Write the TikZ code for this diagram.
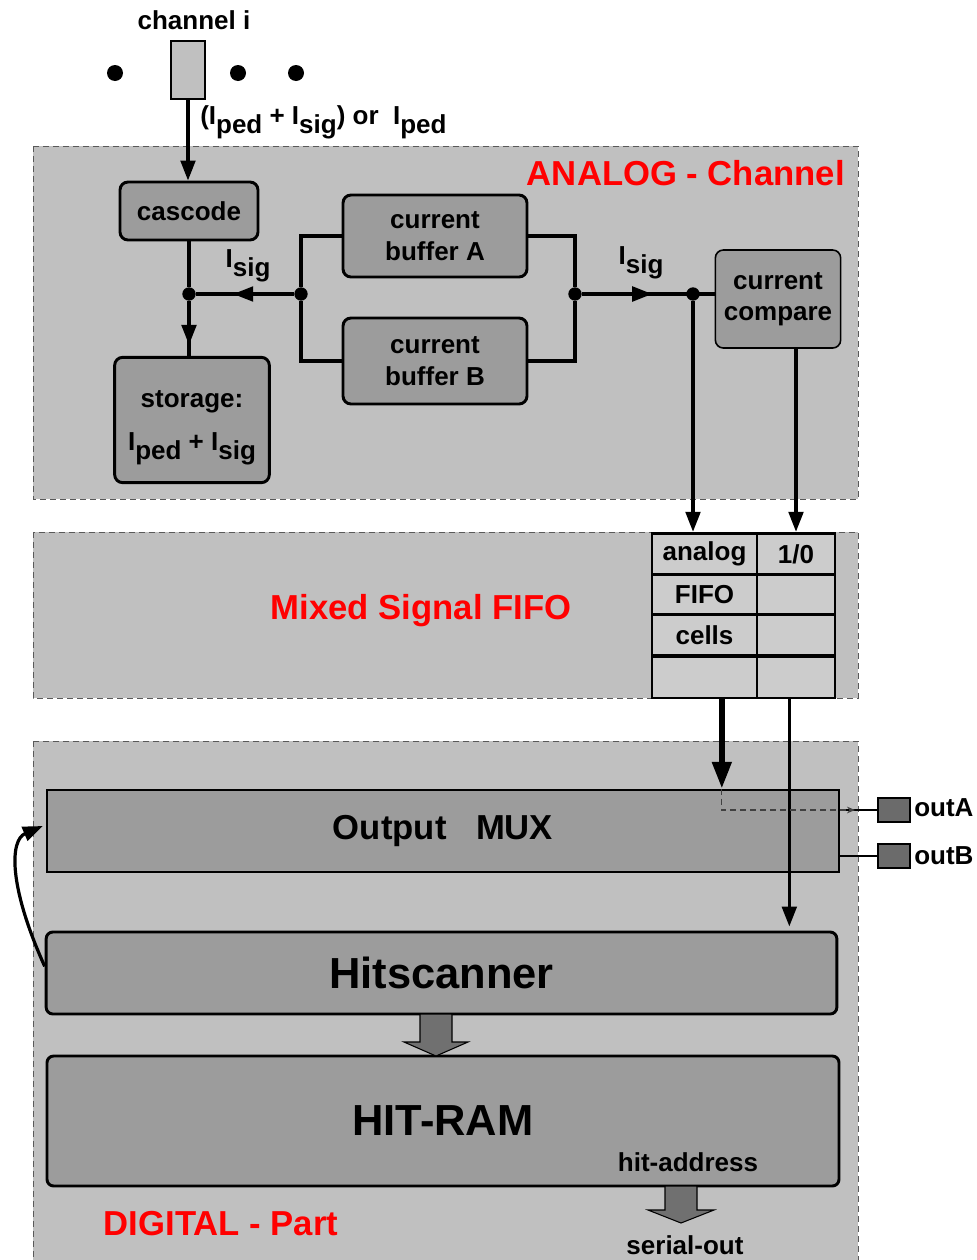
\documentclass[tikz,border=0pt]{standalone}
\usepackage{fontspec}
\setmainfont{Liberation Sans}
\usetikzlibrary{arrows.meta,decorations.markings}

\definecolor{regiongray}{gray}{0.753}
\definecolor{boxgray}{gray}{0.61}
\definecolor{cellgray}{gray}{0.8}
\definecolor{padgray}{gray}{0.42}
\definecolor{fatgray}{gray}{0.44}

\newcommand\smallbf{\bfseries\fontsize{19.5}{23.5}\selectfont}
\newcommand\midbf{\bfseries\fontsize{26}{30}\selectfont}
\newcommand\bigbf{\bfseries\fontsize{32.6}{38}\selectfont}
\newcommand\dn[1]{\raisebox{-0.35em}{#1}}

\tikzset{
  >={Triangle[length=15pt,width=11pt]},
  region/.style={fill=regiongray, draw=black!65, dash pattern=on 4.5pt off 3pt, line width=0.6pt},
  block/.style={draw, fill=boxgray, rounded corners=6pt, line width=2.2pt,
    inner sep=0pt, align=center, font=\smallbf},
  bigbox/.style={draw, fill=boxgray, line width=2.2pt, inner sep=0pt, align=center},
  cell/.style={draw, fill=cellgray, line width=2.2pt, inner sep=0pt,
    minimum height=31.1pt, font=\smallbf},
  dot/.style={circle, fill=black, inner sep=0pt, minimum size=10pt},
  pad/.style={draw, fill=padgray, line width=1pt, minimum width=24pt, minimum height=18pt, inner sep=0pt},
  txt/.style={font=\smallbf, inner sep=0pt},
  title/.style={font=\midbf, text=red, inner sep=0pt},
  wire/.style={draw, line width=2.4pt},
  midarrow/.style={decoration={markings, mark=at position #1 with {\arrow{>}}},
    postaction=decorate},
  fatarrow/.style={draw, fill=fatgray, line width=0.8pt},
}

\begin{document}
\begin{tikzpicture}[x=0.75pt,y=-0.75pt]
  \useasboundingbox (0,0) rectangle (977,1260);

  % three parts of the chip
  \path[region] (33,146) rectangle (858,499);
  \path[region] (33,532) rectangle (858,698);
  \path[region] (33,741) rectangle (858,1264);
  \node[title, anchor=east] (tanalog) at (845,173) {ANALOG - Channel};
  \node[title] (tfifo) at (421,611) {Mixed Signal FIFO};
  \node[title] (tdigital) at (221,1224) {DIGITAL - Part};

  % input channel
  \node[txt] (chtext) at (194,20) {channel i};
  \node[draw, fill=regiongray, line width=2pt, minimum width=25.5pt,
    minimum height=43.5pt, inner sep=0pt] (chan) at (188,70) {};
  \node[dot, minimum size=12pt] (d1) at (115,73) {};
  \node[dot, minimum size=12pt] (d2) at (238,73) {};
  \node[dot, minimum size=12pt] (d3) at (296,73) {};
  \node[txt, anchor=west] (inlbl) at (200,122) {(I\dn{ped} + I\dn{sig}) or\ \ I\dn{ped}};

  % analog blocks
  \node[block, minimum width=103.5pt, minimum height=43.5pt] (cascode) at (189,211) {cascode};
  \node[block, minimum width=116pt, minimum height=94pt] (storage) at (192,420)
    {\rule{0pt}{24pt}storage:\\[9pt]I\dn{ped} + I\dn{sig}};
  \node[block, minimum width=138pt, minimum height=61.5pt] (bufA) at (435,236) {current\\buffer A};
  \node[block, minimum width=138pt, minimum height=64.5pt] (bufB) at (435,361) {current\\buffer B};
  \node[block, line width=1.2pt, minimum width=94pt, minimum height=73.5pt] (compare) at (778,299)
    {current\\compare};

  \node[dot] (j2) at (301,294) {};
  \node[dot] (j1) at (cascode.south |- j2) {};
  \node[dot] (j3) at (575,294) {};
  \node[dot] (j4) at (693,294) {};
  \node[txt] (isig1) at (248,266) {I\dn{sig}};
  \node[txt] (isig2) at (641,263) {I\dn{sig}};

  % fifo cells
  \foreach \r/\y/\ta/\tb in {1/554/analog/{1/0}, 2/595/FIFO/, 3/635/cells/, 4/677.25//} {
    \node[cell, minimum width=78.75pt] (t\r1) at (704.5,\y) {\ta};
    \node[cell, minimum width=58.5pt] (t\r2) at (796,\y) {\tb};
  }

  % digital blocks
  \node[bigbox, minimum width=594pt, minimum height=61.5pt, font=\midbf] (mux) at (443,831)
    {Output\hspace{0.85em}MUX};
  \node[bigbox, rounded corners=5pt, minimum width=593pt, minimum height=61.5pt, font=\bigbf] (hit)
    at (441.5,973) {Hitscanner};
  \node[bigbox, rounded corners=5pt, minimum width=594pt, minimum height=97.5pt, font=\bigbf] (ram)
    at (443,1121) {HIT-RAM};
  \node[txt] (hitaddr) at (688,1162) {hit-address};
  \node[txt] (serout) at (685,1245) {serial-out};
  \node[pad] (outA) at (894,810) {};
  \node[pad] (outB) at (894,856) {};
  \node[txt, anchor=west] (outAl) at (914,808) {outA};
  \node[txt, anchor=west] (outBl) at (914,856) {outB};

  \draw[fatarrow] (420,1014) -- (420,1042) -- (404,1042) -- (436,1056)
    -- (468,1042) -- (452,1042) -- (452,1014) -- cycle;
  \draw[fatarrow] (665,1186) -- (665,1210) -- (648,1210) -- (681,1223)
    -- (714,1210) -- (697,1210) -- (697,1186) -- cycle;

  \path[wire, ->] (chan.south) -- (chan.south |- cascode.north);
  \path[wire] (cascode.south) -- (j1);
  \path[wire, midarrow=0.8] (j1) -- (j1 |- storage.north);
  \path[wire, midarrow=0.62] (j2) -- (j1);
  \path[wire] (bufA.west) -| (j2) |- (bufB.west);
  \path[wire] (bufA.east) -| (j3) |- (bufB.east);
  \path[wire, midarrow=0.53] (j3) -- (compare.west |- j3);
  \path[wire, ->] (j4) -- (j4 |- t11.north);
  \path[wire, ->] (compare.south -| t12) -- (t12.north);
  \path[wire, line width=4.2pt, -{Triangle[length=20pt,width=14pt]}]
    ([xshift=13pt]t41.south) -- ([xshift=13pt]t41.south |- mux.north);
  \path[wire, ->] ([xshift=-5pt]t42.south) -- ([xshift=-5pt,yshift=3pt]t42.south |- hit.north);
  \path[wire, line width=1.8pt] (mux.east |- outA) -- (outA.west);
  \path[wire, line width=1.8pt] (mux.east |- outB) -- (outB.west);
  \path[wire, ->] ([yshift=5pt]hit.west) .. controls (8,885) and (10,840) .. ([xshift=-2pt,yshift=3.75pt]mux.west);
  \draw[black!75, line width=0.8pt, dash pattern=on 4.5pt off 3pt, -{Stealth[length=6pt,width=5pt]}]
    ([xshift=13pt]t41.south |- mux.north) |- (855,810);
\end{tikzpicture}
\end{document}
